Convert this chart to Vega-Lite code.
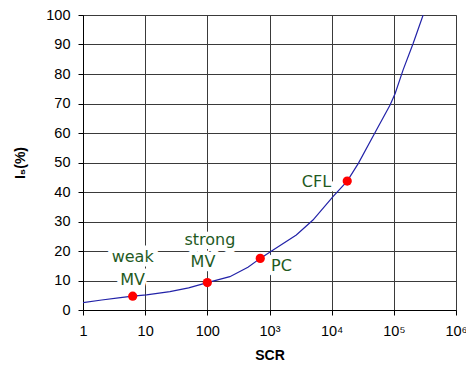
{
  "$schema": "https://vega.github.io/schema/vega-lite/v6.json",
  "width": 373,
  "height": 295,
  "autosize": {"type": "none"},
  "padding": {"left": 83, "top": 15, "right": 10, "bottom": 58},
  "background": "white",
  "config": {
    "view": {"stroke": "#888888", "strokeWidth": 1},
    "axis": {
      "labelFont": "Liberation Sans",
      "titleFont": "Liberation Sans",
      "labelFontSize": 14.5,
      "titleFontSize": 14,
      "titleFontWeight": "bold",
      "labelColor": "#000000",
      "titleColor": "#000000",
      "domainColor": "#000000",
      "tickColor": "#000000",
      "tickSize": 5,
      "gridColor": "#3a3a3a",
      "gridOpacity": 1,
      "gridWidth": 1
    }
  },
  "datasets": {
    "curve": [
      {"SCR": 1, "I5": 2.5},
      {"SCR": 2, "I5": 3.4},
      {"SCR": 4, "I5": 4.2},
      {"SCR": 6.3, "I5": 4.7},
      {"SCR": 10.5, "I5": 5.1},
      {"SCR": 25, "I5": 6.2},
      {"SCR": 50, "I5": 7.5},
      {"SCR": 100, "I5": 9.3},
      {"SCR": 230, "I5": 11.3},
      {"SCR": 450, "I5": 14.5},
      {"SCR": 710, "I5": 17.5},
      {"SCR": 1050, "I5": 19.8},
      {"SCR": 2700, "I5": 25.4},
      {"SCR": 5000, "I5": 30.5},
      {"SCR": 10500, "I5": 38.4},
      {"SCR": 17800, "I5": 43.7},
      {"SCR": 27000, "I5": 49.8},
      {"SCR": 52500, "I5": 61},
      {"SCR": 87000, "I5": 69.5},
      {"SCR": 105000, "I5": 73.4},
      {"SCR": 141000, "I5": 81.4},
      {"SCR": 205000, "I5": 90.4},
      {"SCR": 296000, "I5": 100}
    ],
    "points": [
      {"SCR": 6.3, "I5": 4.7, "name": "weak MV"},
      {"SCR": 100, "I5": 9.3, "name": "strong MV"},
      {"SCR": 710, "I5": 17.5, "name": "PC"},
      {"SCR": 17800, "I5": 43.7, "name": "CFL"}
    ],
    "labels": [
      {"SCR": 6.3, "I5": 18, "text": "weak"},
      {"SCR": 6.3, "I5": 10.2, "text": "MV"},
      {"SCR": 110, "I5": 23.7, "text": "strong"},
      {"SCR": 85, "I5": 16.3, "text": "MV"},
      {"SCR": 1560, "I5": 14.9, "text": "PC"},
      {"SCR": 5700, "I5": 43.5, "text": "CFL"}
    ]
  },
  "encoding": {
    "x": {
      "field": "SCR",
      "type": "quantitative",
      "scale": {"type": "log", "domain": [1, 1000000], "nice": false},
      "axis": {
        "title": "SCR",
        "values": [1, 10, 100, 1000, 10000, 100000, 1000000],
        "labelExpr": "datum.value == 1 ? '1' : datum.value == 10 ? '10' : datum.value == 100 ? '100' : datum.value == 1000 ? '10³' : datum.value == 10000 ? '10⁴' : datum.value == 100000 ? '10⁵' : '10⁶'",
        "labelPadding": 9,
        "labelOverlap": false,
        "labelBound": false,
        "labelFlush": false,
        "titlePadding": 11,
        "grid": true
      }
    },
    "y": {
      "field": "I5",
      "type": "quantitative",
      "scale": {"domain": [0, 100], "nice": false},
      "axis": {
        "title": "I₅(%)",
        "values": [0, 10, 20, 30, 40, 50, 60, 70, 80, 90, 100],
        "labelPadding": 8,
        "titlePadding": 18,
        "grid": true
      }
    }
  },
  "layer": [
    {
      "data": {"name": "labels"},
      "mark": {"type": "text", "font": "DejaVu Sans", "fontSize": 16, "stroke": "white", "strokeWidth": 9, "strokeJoin": "round", "fill": "white", "align": "center", "baseline": "middle"},
      "encoding": {"text": {"field": "text"}}
    },
    {
      "data": {"name": "curve"},
      "mark": {"type": "line", "color": "#2222a8", "strokeWidth": 1.2, "clip": true}
    },
    {
      "data": {"name": "points"},
      "mark": {"type": "circle", "color": "#ff0000", "opacity": 1, "size": 85}
    },
    {
      "data": {"name": "labels"},
      "mark": {"type": "text", "font": "DejaVu Sans", "fontSize": 16, "color": "#1f5a1f", "align": "center", "baseline": "middle"},
      "encoding": {"text": {"field": "text"}}
    }
  ]
}
